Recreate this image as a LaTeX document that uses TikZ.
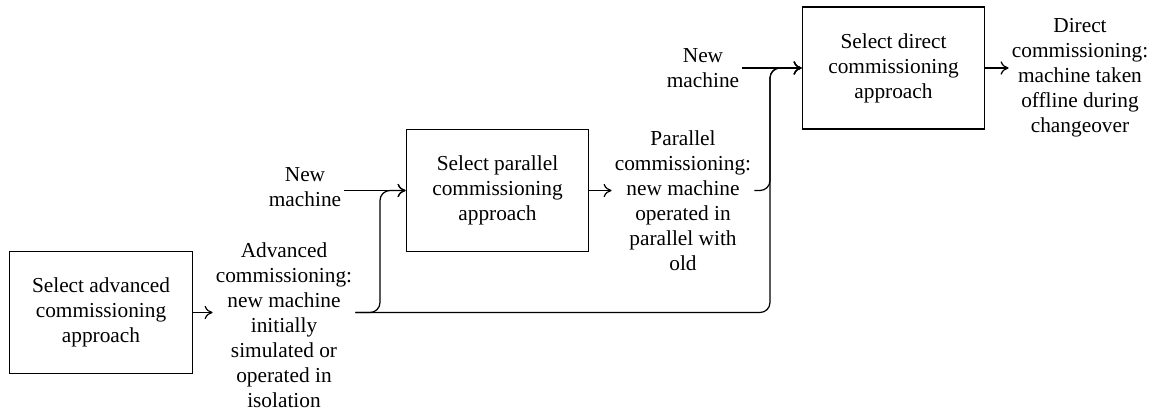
\documentclass[tikz,border=0pt]{standalone}
\usepackage{fontspec}
\setmainfont{Liberation Serif}
\usetikzlibrary{arrows.meta}

\begin{document}
\begin{tikzpicture}[x=0.75pt, y=-0.75pt, line width=0.9pt,
  >={Computer Modern Rightarrow[length=6pt, width=10pt]},
  every node/.style={font=\fontsize{16}{18.75}\selectfont},
  stage/.style={draw, align=center, minimum width=137pt, minimum height=91.5pt, inner sep=2pt},
  outcome/.style={align=center, inner sep=2pt},
  merge/.style={->, rounded corners=7.5pt}]
\useasboundingbox (0,0) rectangle (1156,413);
\node[stage] (adv) at (101,312.5) {Select advanced\\commissioning\\approach};
\node[stage] (par) at (497.5,190.5) {Select parallel\\commissioning\\approach};
\node[stage] (dir) at (893.5,68) {Select direct\\commissioning\\approach};
\node[outcome] (advout) at (284,325) {Advanced\\commissioning:\\new machine\\initially\\simulated or\\operated in\\isolation};
\node[outcome] (parout) at (683,200.5) {Parallel\\commissioning:\\new machine\\operated in\\parallel with\\old};
\node[outcome] (dirout) at (1080,78) {Direct\\commissioning:\\machine taken\\offline during\\changeover};
\node[outcome] (newpar) at (305,187.5) {New\\machine};
\node[outcome] (newdir) at (703,68.5) {New\\machine};
\coordinate (forkpar) at (380,312.5);
\coordinate (forkdir) at (770,312.5);
% advanced stage
\draw[->] (adv.east) -- (advout.west |- adv.east);
\draw[merge] (advout.east |- adv.east) -| (forkpar |- par.west) -- (par.west);
\draw[merge] (advout.east |- adv.east) -| (forkdir |- dir.west) -- (dir.west);
% parallel stage
\draw[->] (newpar.east |- par.west) -- (par.west);
\draw[->] (par.east) -- (parout.west |- par.east);
\draw[merge] (parout.east |- par.east) -| (forkdir |- dir.west) -- (dir.west);
% direct stage
\draw[->] (newdir.east |- dir.west) -- (dir.west);
\draw[->] (dir.east) -- (dirout.west |- dir.east);
\end{tikzpicture}
\end{document}
